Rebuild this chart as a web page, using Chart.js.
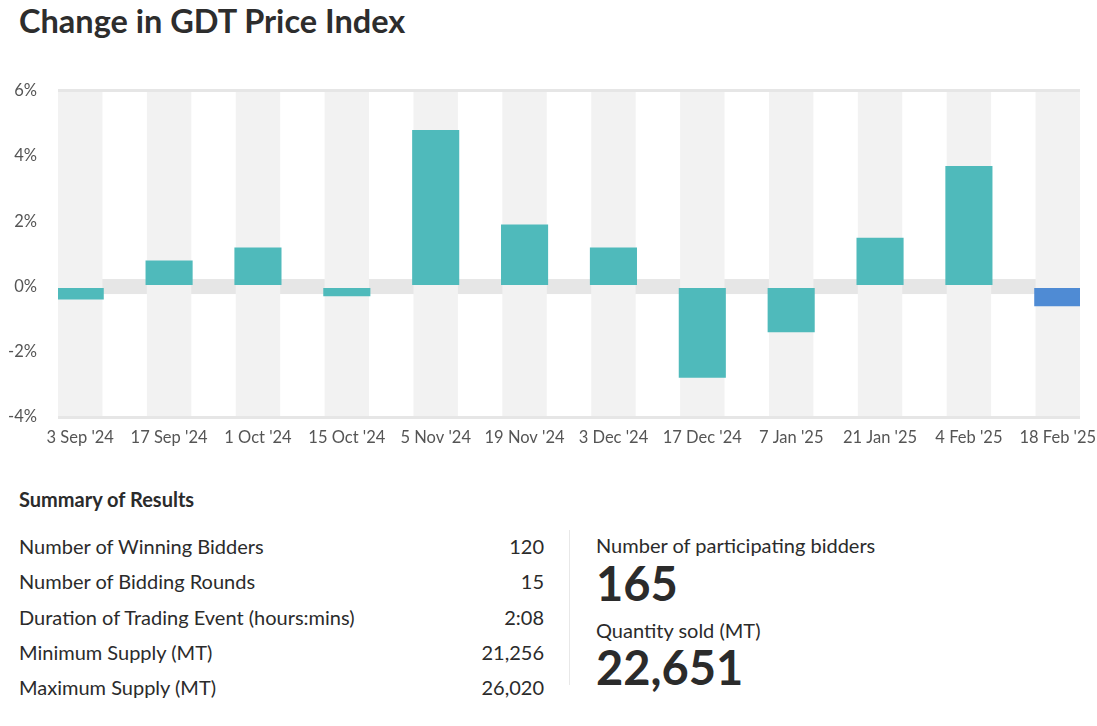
<!DOCTYPE html>
<html>
<head>
<meta charset="utf-8">
<title>Change in GDT Price Index</title>
<script src="https://cdn.jsdelivr.net/npm/chart.js@4.4.1/dist/chart.umd.min.js"></script>
<style>
    body { margin: 0; width: 1097px; height: 726px; background: #fff; font-family: Lato, sans-serif; color: #2b2b2b; position: relative; overflow: hidden; }
    h1 { position: absolute; left: 19px; top: 1px; margin: 0; font-size: 32.5px; font-weight: 700; line-height: 1.2; color: #2d2d2d; }
    #chartBox { position: absolute; left: 0; top: 60px; width: 1097px; height: 400px; }
    .summaryTitle { position: absolute; left: 19px; top: 482px; font-size: 20px; font-weight: 700; line-height: 35px; }
    .rows { position: absolute; left: 19px; top: 529px; width: 525px; }
    .row { display: flex; justify-content: space-between; font-size: 20px; line-height: 35.25px; }
    .divider { position: absolute; left: 569px; top: 530px; width: 1px; height: 155px; background: #e8e8e8; }
    .kpiLabel { position: absolute; left: 596px; font-size: 20px; line-height: 35px; }
    .kpiValue { position: absolute; left: 596px; font-size: 47px; font-weight: 700; line-height: 1.2; }
</style>
</head>
<body>
<h1>Change in GDT Price Index</h1>
<div id="chartBox"><canvas id="gdtChart"></canvas></div>

<div class="summaryTitle">Summary of Results</div>
<div class="rows" id="summaryRows"></div>
<div class="divider"></div>
<div class="kpiLabel" style="top:528px">Number of participating bidders</div>
<div class="kpiValue" id="kpiBidders" style="top:555px"></div>
<div class="kpiLabel" style="top:613px">Quantity sold (MT)</div>
<div class="kpiValue" id="kpiQuantity" style="top:639px"></div>

<script>
// Datos del gráfico
const eventLabels = ["3 Sep '24", "17 Sep '24", "1 Oct '24", "15 Oct '24", "5 Nov '24", "19 Nov '24",
    "3 Dec '24", "17 Dec '24", "7 Jan '25", "21 Jan '25", "4 Feb '25", "18 Feb '25"];
const indexChange = [-0.4, 0.8, 1.2, -0.3, 4.8, 1.9, 1.2, -2.8, -1.4, 1.5, 3.7, -0.6];
const yTicks = [-4, -2, 0, 2, 4, 6];
const zeroBand = [-0.23, 0.23];

// Resumen
const summaryNames = ['Number of Winning Bidders', 'Number of Bidding Rounds', 'Duration of Trading Event (hours:mins)',
    'Minimum Supply (MT)', 'Maximum Supply (MT)'];
const summaryValues = ['120', '15', '2:08', '21,256', '26,020'];
const participatingBidders = '165';
const quantitySold = '22,651';

const rowsEl = document.getElementById('summaryRows');
summaryNames.forEach((name, i) => {
    const row = document.createElement('div');
    row.className = 'row';
    row.innerHTML = '<span>' + name + '</span><span>' + summaryValues[i] + '</span>';
    rowsEl.appendChild(row);
});
document.getElementById('kpiBidders').textContent = participatingBidders;
document.getElementById('kpiQuantity').textContent = quantitySold;

// Bandas de fondo: franja en cero y columnas alternas
const bandsPlugin = {
    id: 'bands',
    beforeDraw(chart) {
        const { ctx, chartArea, scales: { x, y } } = chart;
        ctx.save();
        ctx.fillStyle = '#e6e6e6';
        const bTop = y.getPixelForValue(zeroBand[1]);
        const bBot = y.getPixelForValue(zeroBand[0]);
        ctx.fillRect(chartArea.left, bTop, chartArea.width, bBot - bTop);
        ctx.fillStyle = '#f2f2f2';
        eventLabels.forEach((_, i) => {
            const l = x.getPixelForValue(i - 0.25);
            const r = x.getPixelForValue(i + 0.25);
            ctx.fillRect(l, chartArea.top, r - l, chartArea.bottom - chartArea.top);
        });
        ctx.restore();
    }
};

const lastIdx = indexChange.length - 1;
const gdtCtx = document.getElementById('gdtChart').getContext('2d');
new Chart(gdtCtx, {
    type: 'bar',
    data: {
        datasets: [{
            data: indexChange.map((v, i) => ({ x: i, y: v })),
            backgroundColor: indexChange.map((v, i) => i === lastIdx ? '#4f8bd4' : '#4fbabb'),
            borderWidth: 0,
            categoryPercentage: 1,
            barPercentage: 0.53
        }]
    },
    options: {
        responsive: true,
        maintainAspectRatio: false,
        animation: false,
        layout: { padding: { top: 29, right: 17, left: 0, bottom: 0 } },
        plugins: {
            legend: { display: false },
            tooltip: { enabled: false }
        },
        scales: {
            x: {
                type: 'linear',
                offset: false,
                min: -0.25,
                max: 11.25,
                grid: { display: false, drawTicks: false, offset: false },
                border: { display: false },
                afterBuildTicks: (axis) => { axis.ticks = eventLabels.map((_, i) => ({ value: i })); },
                afterFit: (axis) => {
                    axis.height = 43;
                    axis.paddingLeft = 0;
                    axis.paddingRight = 0;
                },
                ticks: {
                    autoSkip: false,
                    maxRotation: 0,
                    padding: 11,
                    color: '#555',
                    font: { family: 'Lato', size: 16.5 },
                    callback: (v) => eventLabels[v]
                }
            },
            y: {
                min: -4,
                max: 6,
                afterBuildTicks: (axis) => { axis.ticks = yTicks.map(v => ({ value: v })); },
                afterFit: (axis) => { axis.width = 58; },
                border: { display: false },
                grid: {
                    drawTicks: false,
                    lineWidth: 3,
                    color: (c) => (c.tick && (c.tick.value === 6 || c.tick.value === -4)) ? '#e6e6e6' : 'rgba(0,0,0,0)'
                },
                ticks: {
                    padding: 21,
                    color: '#555',
                    font: { family: 'Lato', size: 16.5 },
                    callback: (v) => v + '%'
                }
            }
        }
    },
    plugins: [bandsPlugin]
});
</script>
</body>
</html>
